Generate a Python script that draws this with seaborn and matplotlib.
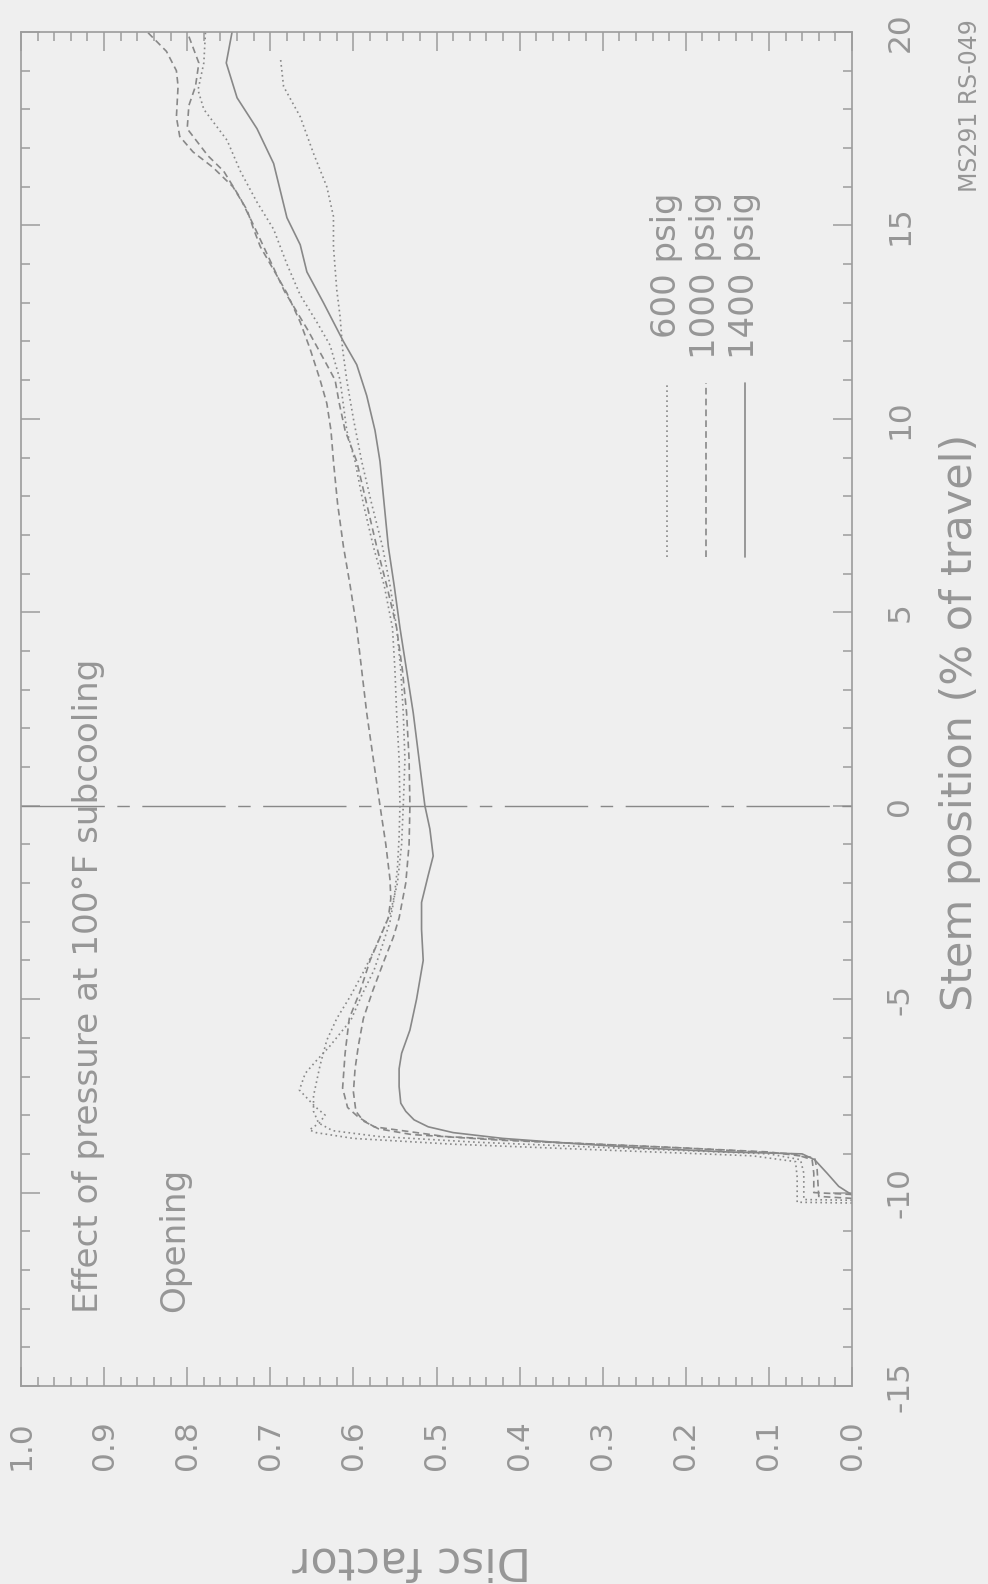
import matplotlib
matplotlib.use("Agg")
import matplotlib.pyplot as plt
import numpy as np
import pandas as pd
import seaborn as sns
from matplotlib.ticker import MultipleLocator, FormatStrFormatter

# ---------------- data (stem position %, disc factor) ----------------
pressures = ["600 psig", "1000 psig", "1400 psig"]

stem_600a = [-10.27, -10.25, -9.6, -9.2, -9.05, -8.9, -8.75, -8.6, -8.45, -8.38, -8.2, -8.0,
             -7.78, -7.35, -6.92, -6.6, -6.23, -5.54, -4.9, -4.24, -3.6, -3.0, -2.4, -1.6,
             -0.8, 0.0, 1.2, 2.4, 3.5, 4.6, 5.7, 6.7, 7.8, 8.9, 9.7, 11.0, 11.9, 12.5, 13.2,
             14.0, 14.9, 15.6, 16.4, 17.2, 18.0, 18.5, 19.2, 20.0]
disc_600a = [0.0, 0.066, 0.066, 0.068, 0.12, 0.30, 0.48, 0.60, 0.645, 0.653, 0.641, 0.634,
             0.646, 0.665, 0.658, 0.645, 0.629, 0.603, 0.590, 0.575, 0.565, 0.556, 0.551, 0.547,
             0.545, 0.544, 0.545, 0.548, 0.550, 0.553, 0.563, 0.576, 0.588, 0.598, 0.608, 0.616,
             0.628, 0.644, 0.664, 0.680, 0.696, 0.716, 0.736, 0.752, 0.780, 0.787, 0.780, 0.778]

stem_600b = [-10.2, -10.18, -9.5, -9.15, -9.0, -8.85, -8.7, -8.55, -8.4, -8.2, -7.9, -7.5,
             -6.7, -6.06, -5.5, -4.9, -4.3, -3.6, -2.8, -2.0, -1.0, 0.0, 1.2, 2.4, 3.5, 4.6,
             5.7, 6.7, 7.8, 8.9, 10.0, 11.0, 11.8, 12.64, 13.33, 14.45, 15.23, 16.0, 16.86,
             17.81, 18.59, 19.36]
disc_600b = [0.0, 0.058, 0.058, 0.062, 0.10, 0.28, 0.45, 0.57, 0.625, 0.642, 0.648, 0.648,
             0.640, 0.632, 0.620, 0.603, 0.588, 0.572, 0.556, 0.547, 0.542, 0.540, 0.538, 0.540,
             0.543, 0.548, 0.556, 0.565, 0.578, 0.590, 0.600, 0.608, 0.613, 0.616, 0.620, 0.624,
             0.624, 0.632, 0.648, 0.664, 0.684, 0.688]

stem_1000a = [-10.05, -10.0, -9.5, -9.15, -9.0, -8.85, -8.7, -8.55, -8.3, -8.05, -7.8, -7.3,
              -6.4, -5.5, -4.8, -4.0, -3.4, -2.9, -2.4, -1.9, -1.0, 0.0, 1.2, 2.4, 3.5, 4.6,
              5.7, 6.7, 7.8, 8.9, 9.7, 10.4, 11.0, 11.8, 12.5, 13.25, 13.85, 14.45, 14.9, 15.4,
              16.0, 16.5, 16.9, 17.3, 17.8, 18.6, 19.0, 19.5, 20.0]
disc_1000a = [0.0, 0.046, 0.046, 0.048, 0.07, 0.20, 0.36, 0.49, 0.575, 0.594, 0.607, 0.613,
              0.610, 0.605, 0.592, 0.580, 0.568, 0.558, 0.555, 0.556, 0.561, 0.568, 0.576, 0.584,
              0.590, 0.596, 0.604, 0.612, 0.619, 0.624, 0.627, 0.632, 0.640, 0.652, 0.664, 0.680,
              0.696, 0.712, 0.720, 0.728, 0.745, 0.769, 0.793, 0.809, 0.813, 0.811, 0.813, 0.825,
              0.848]

stem_1000b = [-10.15, -10.1, -9.4, -9.1, -8.95, -8.8, -8.65, -8.5, -8.35, -8.15, -7.9, -7.4,
              -6.8, -6.2, -5.5, -4.8, -4.0, -3.4, -2.9, -2.0, -1.0, 0.0, 1.2, 2.4, 3.5, 4.6,
              5.7, 6.7, 7.8, 8.9, 9.7, 10.4, 11.0, 11.4, 12.3, 13.3, 14.45, 15.0, 15.7, 16.4,
              16.8, 17.5, 18.1, 18.6, 19.2, 20.0]
disc_1000b = [0.0, 0.040, 0.042, 0.045, 0.10, 0.25, 0.42, 0.53, 0.570, 0.588, 0.597, 0.600,
              0.598, 0.594, 0.588, 0.577, 0.563, 0.552, 0.545, 0.537, 0.533, 0.532, 0.533, 0.536,
              0.541, 0.548, 0.560, 0.572, 0.584, 0.596, 0.610, 0.617, 0.622, 0.632, 0.655, 0.683,
              0.708, 0.720, 0.736, 0.756, 0.775, 0.800, 0.798, 0.790, 0.786, 0.800]

stem_1400 = [-10.06, -9.95, -9.84, -9.5, -9.15, -9.0, -8.95, -8.85, -8.72, -8.6, -8.45, -8.3,
             -8.12, -7.9, -7.69, -7.26, -6.8, -6.4, -5.8, -5.0, -4.0, -3.2, -2.5, -1.8, -1.3,
             -0.6, 0.0, 1.2, 2.4, 3.5, 4.6, 5.7, 6.7, 7.8, 8.9, 9.7, 10.6, 11.4, 12.0, 13.0,
             13.8, 14.5, 15.2, 16.6, 17.5, 18.3, 19.2, 20.0]
disc_1400 = [0.0, 0.008, 0.016, 0.030, 0.045, 0.060, 0.15, 0.25, 0.344, 0.42, 0.48, 0.51,
             0.527, 0.537, 0.543, 0.545, 0.545, 0.542, 0.532, 0.524, 0.516, 0.518, 0.518, 0.510,
             0.504, 0.508, 0.514, 0.521, 0.528, 0.536, 0.544, 0.551, 0.558, 0.563, 0.568, 0.574,
             0.584, 0.596, 0.612, 0.636, 0.656, 0.664, 0.680, 0.696, 0.716, 0.740, 0.753, 0.746]

runs = [
    ("600a", "600 psig", stem_600a, disc_600a),
    ("600b", "600 psig", stem_600b, disc_600b),
    ("1000a", "1000 psig", stem_1000a, disc_1000a),
    ("1000b", "1000 psig", stem_1000b, disc_1000b),
    ("1400", "1400 psig", stem_1400, disc_1400),
]

# ---------------- style ----------------
BG = "#efefef"
LINE = "#888888"
AXC = "#9c9c9c"
TXT = "#969696"
DASHES = {"600 psig": (1, 2), "1000 psig": (4, 2.5), "1400 psig": ""}

sns.set_theme(style="ticks")
plt.rcParams["font.family"] = ["DejaVu Sans"]
plt.rcParams["axes.unicode_minus"] = False

fig = plt.figure(figsize=(9.88, 15.84), dpi=100, facecolor=BG)
ax = fig.add_axes([0.02126, 0.125, 0.8411, 0.8548], facecolor=BG)

frames = []
for name, pres, s, d in runs:
    frames.append(pd.DataFrame({"stem": s, "disc": d, "run": name, "pressure": pres}))
df = pd.concat(frames, ignore_index=True)

sns.lineplot(data=df, x="disc", y="stem", units="run", estimator=None, sort=False,
             style="pressure", style_order=pressures, dashes=DASHES,
             color=LINE, linewidth=1.2, legend=False, ax=ax)

# stem = 0 reference (dash-dot)
ax.axhline(0, color=LINE, lw=1.0, linestyle=(0, (60, 9, 9, 9)), zorder=1)

ax.set_xlim(1.0, 0.0)
ax.set_ylim(-15, 20)
ax.xaxis.set_major_locator(MultipleLocator(0.1))
ax.xaxis.set_minor_locator(MultipleLocator(0.02))
ax.yaxis.set_major_locator(MultipleLocator(5))
ax.yaxis.set_minor_locator(MultipleLocator(1))
ax.xaxis.set_major_formatter(FormatStrFormatter("%.1f"))

for sp in ax.spines.values():
    sp.set_color(AXC)
    sp.set_linewidth(1.2)

ax.tick_params(which="both", direction="in", top=True, bottom=True, left=True, right=True,
               color=AXC, width=1.1)
ax.tick_params(which="major", length=14)
ax.tick_params(which="minor", length=6.5)
ax.tick_params(axis="x", which="major", labelsize=22.5, labelcolor=TXT, pad=24.5,
               labelrotation=90, labelbottom=True, labeltop=False)
ax.tick_params(axis="y", which="major", labelsize=22.5, labelcolor=TXT, pad=24,
               labelrotation=90, labelleft=False, labelright=True)
for t in ax.yaxis.get_major_ticks():
    t.label2.set_va("center")
    t.label2.set_ha("left")

ax.set_xlabel("Disc factor", fontsize=32, color=TXT, rotation=180, va="center", ha="center")
ax.xaxis.set_label_coords(0.4705, -0.1285)
ax.yaxis.set_label_position("right")
ax.set_ylabel("Stem position (% of travel)", fontsize=31, color=TXT, rotation=90,
              va="center", ha="center")
ax.yaxis.set_label_coords(1.13, 0.49)

# annotations
ax.text(0.0818, 0.054, "Effect of pressure at 100°F subcooling", transform=ax.transAxes,
        rotation=90, ha="center", va="bottom", fontsize=24.6, color=TXT)
ax.text(0.185, 0.055, "Opening", transform=ax.transAxes,
        rotation=90, ha="center", va="bottom", fontsize=24.6, color=TXT)

# manual (rotated) legend
leg_x = [0.777, 0.824, 0.871]
for fx, pres in zip(leg_x, pressures):
    dsh = DASHES[pres]
    kw = dict(color=LINE, lw=1.2, transform=ax.transAxes)
    if dsh:
        kw["dashes"] = dsh
    ax.plot([fx, fx], [0.612, 0.741], **kw)
    ax.text(fx, 0.8818, pres, transform=ax.transAxes, rotation=90, ha="center", va="top",
            fontsize=24.4, color=TXT)

fig.text(0.982, 1 - 192 / 1584, "MS291 RS-049", rotation=90, ha="center", va="bottom",
         fontsize=17, color=TXT)

fig.savefig("out.png", dpi=100, facecolor=BG)
